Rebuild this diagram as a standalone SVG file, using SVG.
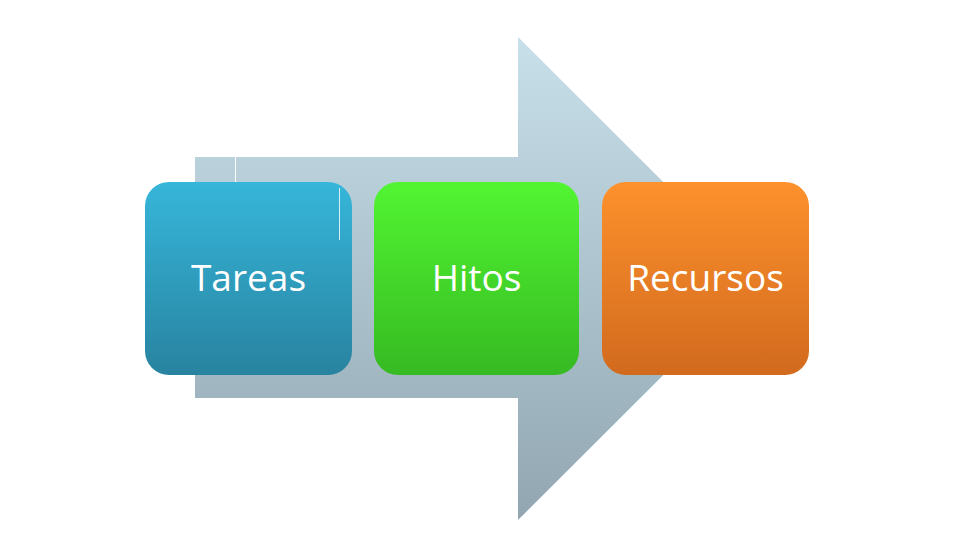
<svg xmlns="http://www.w3.org/2000/svg" width="960" height="540" viewBox="0 0 960 540">
<defs>
<linearGradient id="ga" x1="0" y1="0" x2="0" y2="1"><stop offset="0" stop-color="#c8e0ea"/><stop offset="1" stop-color="#91a6b0"/></linearGradient>
<linearGradient id="gb" x1="0" y1="0" x2="0" y2="1"><stop offset="0" stop-color="#36b6da"/><stop offset="1" stop-color="#2883a0"/></linearGradient>
<linearGradient id="gg" x1="0" y1="0" x2="0" y2="1"><stop offset="0" stop-color="#52f532"/><stop offset="1" stop-color="#36ba22"/></linearGradient>
<linearGradient id="go" x1="0" y1="0" x2="0" y2="1"><stop offset="0" stop-color="#fd912c"/><stop offset="1" stop-color="#d26a1e"/></linearGradient>
<style>
.lbl{font-family:"Open Sans","Noto Sans","Liberation Sans",sans-serif;font-size:37px;fill:#ffffff;text-anchor:middle}
</style>
</defs>
<rect width="960" height="540" fill="#ffffff"/>
<g id="connectors">
<path d="M195 157 H518 V37 L760 278.5 L518 520 V398 H195 Z" fill="url(#ga)"/>
<line x1="235.5" y1="157" x2="235.5" y2="182" stroke="#ffffff" stroke-width="1"/>
</g>
<g id="tareas">
<rect x="145" y="182" width="207" height="193" rx="24" fill="url(#gb)"/>
<line x1="339.5" y1="188" x2="339.5" y2="240" stroke="#ffffff" stroke-width="1" opacity="0.8"/>
<text class="lbl" x="248.5" y="291">Tareas</text>
</g>
<g id="hitos">
<rect x="374" y="182" width="205" height="193" rx="24" fill="url(#gg)"/>
<text class="lbl" x="476.5" y="291">Hitos</text>
</g>
<g id="recursos">
<rect x="602" y="182" width="207" height="193" rx="24" fill="url(#go)"/>
<text class="lbl" x="705.5" y="291">Recursos</text>
</g>
</svg>
